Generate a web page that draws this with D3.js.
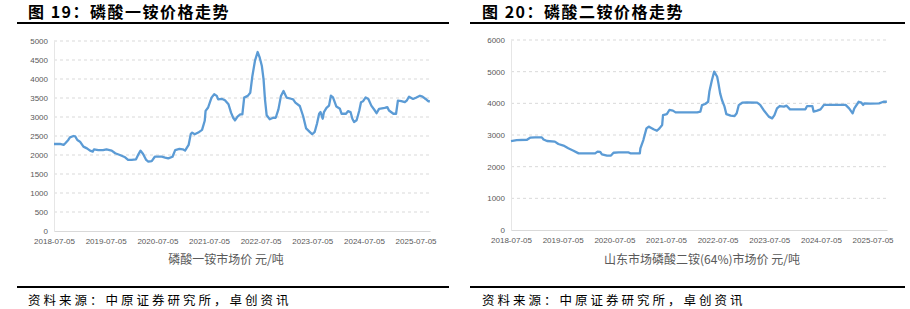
<!DOCTYPE html>
<html>
    <head>
        <meta charset="utf-8">
        <title>磷酸一铵 / 磷酸二铵价格走势</title>
        <script src="https://cdn.jsdelivr.net/npm/d3@7/dist/d3.min.js"></script>
        <style>
            body { margin: 0; background: #fff; }
            text { font-family: "Noto Sans CJK SC", "Noto Sans", sans-serif; }
        </style>
    </head>
    <body>
        <svg width="910" height="309" id="mainsvg"></svg>
        <script>
            // ---- data ----
            const mapDates = ["2018-07-05","2018-08-17","2018-09-11","2018-09-23","2018-10-14","2018-10-26","2018-11-20","2018-12-02","2018-12-17",
                "2019-01-05","2019-01-29","2019-02-23","2019-03-17","2019-04-05","2019-04-14","2019-05-14","2019-06-17","2019-07-11","2019-08-17",
                "2019-09-11","2019-10-14","2019-11-20","2019-12-11","2020-01-05","2020-02-05","2020-02-23","2020-03-08","2020-03-26","2020-04-17",
                "2020-05-02","2020-05-26","2020-06-17","2020-08-05","2020-08-29","2020-09-20","2020-10-20","2020-11-08","2020-12-08","2021-01-01",
                "2021-01-17","2021-02-11","2021-02-26","2021-03-08","2021-03-26","2021-04-20","2021-05-17","2021-06-05","2021-06-11","2021-06-29",
                "2021-07-23","2021-08-11","2021-08-29","2021-09-08","2021-10-02","2021-10-26","2021-11-20","2021-12-08","2021-12-23","2022-01-05",
                "2022-01-23","2022-02-11","2022-02-26","2022-03-11","2022-04-05","2022-04-23","2022-05-08","2022-05-26","2022-06-14","2022-06-29",
                "2022-07-14","2022-07-26","2022-08-05","2022-08-17","2022-09-08","2022-10-02","2022-10-20","2022-11-08","2022-11-26","2022-12-14",
                "2023-01-05","2023-02-05","2023-02-20","2023-03-08","2023-04-08","2023-05-02","2023-05-23","2023-06-17","2023-07-05","2023-07-23",
                "2023-08-08","2023-08-23","2023-09-02","2023-09-17","2023-09-26","2023-10-14","2023-11-01","2023-11-14","2023-11-29","2023-12-23",
                "2024-01-17","2024-01-29","2024-02-29","2024-03-14","2024-04-01","2024-04-14","2024-04-26","2024-05-14","2024-06-02","2024-06-14",
                "2024-06-29","2024-07-17","2024-08-05","2024-08-26","2024-09-20","2024-10-02","2024-10-20","2024-11-29","2024-12-17","2024-12-29",
                "2025-01-29","2025-02-17","2025-03-02","2025-03-26","2025-04-20","2025-05-05","2025-05-20","2025-06-17","2025-07-11","2025-08-05",
                "2025-08-23","2025-09-14","2025-10-02","2025-10-14"];
            const mapValues = [2290,2290,2265,2310,2395,2465,2500,2490,2395,
                2350,2220,2175,2115,2090,2150,2130,2130,2150,2115,
                2045,2000,1940,1870,1870,1885,2025,2115,2025,1870,
                1825,1840,1955,1955,1930,1910,1955,2130,2160,2150,
                2115,2265,2550,2590,2545,2590,2660,2900,3160,3250,
                3510,3600,3555,3465,3480,3440,3335,3115,2980,2910,
                3010,3070,3070,3510,3555,3640,4080,4475,4710,4560,
                4340,3990,3465,3045,2940,2980,2980,3200,3555,3685,
                3510,3480,3465,3380,3290,3020,2700,2610,2545,2610,
                2830,3085,3130,2955,3130,3240,3300,3560,3515,3275,
                3215,3085,3085,3155,3130,2955,2870,2915,3170,3390,
                3415,3515,3475,3300,3170,3100,3215,3240,3260,3170,
                3085,3085,3430,3415,3390,3440,3535,3475,3515,3560,
                3535,3475,3415,3415];

            const dapDates = ["2018-07-05","2018-08-14","2018-10-26","2018-11-17","2018-12-23","2019-02-08","2019-02-20","2019-03-17","2019-05-11",
                "2019-06-05","2019-07-11","2019-08-14","2019-09-20","2019-10-26","2020-02-20","2020-03-08","2020-03-26","2020-04-08","2020-05-14",
                "2020-06-11","2020-06-29","2020-08-05","2020-10-14","2020-10-26","2021-01-01","2021-01-05","2021-01-26","2021-02-17","2021-03-05",
                "2021-03-20","2021-04-08","2021-05-02","2021-05-20","2021-06-08","2021-06-14","2021-07-11","2021-07-29","2021-08-23","2021-09-11",
                "2022-02-11","2022-03-05","2022-03-17","2022-04-08","2022-04-29","2022-05-08","2022-05-26","2022-06-11","2022-07-02","2022-07-11",
                "2022-07-23","2022-08-05","2022-08-23","2022-09-05","2022-10-05","2022-11-02","2022-11-17","2022-12-02","2022-12-26","2023-01-29",
                "2023-04-11","2023-05-02","2023-05-26","2023-07-02","2023-07-26","2023-08-11","2023-08-29","2023-09-17","2023-10-17","2023-11-05",
                "2023-11-29","2024-03-17","2024-03-29","2024-05-05","2024-05-14","2024-06-08","2024-07-02","2024-07-26","2024-12-26","2025-01-20",
                "2025-02-14","2025-02-26","2025-03-29","2025-04-17","2025-04-29","2025-05-08","2025-06-20","2025-08-20","2025-09-20","2025-10-14"];
            const dapValues = [2810,2840,2850,2915,2925,2925,2860,2810,2790,
                2715,2665,2580,2505,2420,2420,2475,2470,2390,2350,
                2350,2440,2450,2450,2420,2420,2580,2840,3210,3265,
                3230,3180,3135,3210,3315,3630,3660,3790,3770,3715,
                3715,3735,3945,3980,4050,4370,4735,5000,4840,4630,
                4315,4105,3895,3660,3610,3600,3685,3945,4020,4030,
                4020,3950,3790,3580,3525,3630,3840,3915,3895,3925,
                3810,3810,3915,3915,3740,3770,3810,3950,3950,3840,
                3685,3840,4050,4020,3950,4000,3990,4000,4050,4050];

            const xTickDates = ["2018-07-05","2019-07-05","2020-07-05","2021-07-05","2022-07-05","2023-07-05","2024-07-05","2025-07-05"];
            const mapYTicks = [0,500,1000,1500,2000,2500,3000,3500,4000,4500,5000];
            const dapYTicks = [0,1000,2000,3000,4000,5000,6000];

            const titles = ["图 19：磷酸一铵价格走势", "图 20：磷酸二铵价格走势"];
            const seriesNames = ["磷酸一铵市场价 元/吨", "山东市场磷酸二铵(64%)市场价 元/吨"];
            const sourceText = "资料来源：中原证券研究所，卓创资讯";

            // ---- drawing ----
            const svg = d3.select("#mainsvg");
            const parse = d3.timeParse("%Y-%m-%d");
            const lineColor = "#5B9BD5";
            const textGray = "#595959";
            const domainX = [parse("2018-07-05"), parse("2025-10-15")];

            const drawPanel = function(cfg){
                const g = svg.append("g");

                // title + rules
                g.append("text")
                .attr("x", cfg.titleX).attr("y", 18)
                .attr("font-size", 16).attr("font-weight", "bold")
                .attr("letter-spacing", 1.5)
                .attr("fill", "#000")
                .text(cfg.title);
                g.append("line")
                .attr("x1", cfg.ruleX[0]).attr("x2", cfg.ruleX[1])
                .attr("y1", 23).attr("y2", 23)
                .attr("stroke", "#000").attr("stroke-width", 2);
                g.append("line")
                .attr("x1", cfg.ruleX[0]).attr("x2", cfg.ruleX[1])
                .attr("y1", 287).attr("y2", 287)
                .attr("stroke", "#000").attr("stroke-width", 2);
                g.append("text")
                .attr("x", cfg.titleX).attr("y", 305)
                .attr("font-size", 12.5).attr("letter-spacing", 3)
                .attr("fill", "#000")
                .text(sourceText);

                const xScale = d3.scaleTime().domain(domainX).range([cfg.left, cfg.right]);
                const yScale = d3.scaleLinear().domain([0, cfg.yMax]).range([cfg.bottom, cfg.top]);

                // grid
                g.append("g").selectAll("line")
                .data(cfg.yTicks.filter(d => d > 0))
                .join("line")
                .attr("x1", cfg.left).attr("x2", cfg.right)
                .attr("y1", d => yScale(d)).attr("y2", d => yScale(d))
                .attr("stroke", "#d9d9d9").attr("stroke-dasharray", "3,3");

                // axes
                const yAxis = d3.axisLeft(yScale).tickValues(cfg.yTicks).tickFormat(d3.format("d"))
                .tickSize(0).tickPadding(6);
                const yg = g.append("g").attr("transform", `translate(${cfg.left},0)`).call(yAxis);
                yg.select(".domain").attr("stroke", "#e6e6e6");
                yg.selectAll("text").attr("font-size", 8).attr("fill", textGray)
                .style("font-family", "'Liberation Sans', Arial, sans-serif");

                const xAxis = d3.axisBottom(xScale)
                .tickValues(xTickDates.map(parse))
                .tickFormat(d3.timeFormat("%Y-%m-%d"))
                .tickSize(0).tickPadding(7);
                const xg = g.append("g").attr("transform", `translate(0,${cfg.bottom})`).call(xAxis);
                xg.select(".domain").attr("stroke", "#d9d9d9");
                xg.selectAll("text").attr("font-size", 8).attr("fill", textGray)
                .style("font-family", "'Liberation Sans', Arial, sans-serif");

                // series
                const pts = cfg.dates.map((d, i) => ({date: parse(d), value: cfg.values[i]}));
                const line = d3.line().x(d => xScale(d.date)).y(d => yScale(d.value));
                g.append("path")
                .datum(pts)
                .attr("d", line)
                .attr("fill", "none")
                .attr("stroke", lineColor)
                .attr("stroke-width", 2.3)
                .attr("stroke-linejoin", "round");

                // series name under the chart
                g.append("text")
                .attr("x", cfg.nameX).attr("y", 264)
                .attr("text-anchor", "middle")
                .attr("font-size", 12).attr("fill", textGray)
                .text(cfg.name);
            };

            drawPanel({
                title: titles[0], name: seriesNames[0], titleX: 28, ruleX: [17, 449], nameX: 226,
                left: 54, right: 430, top: 41, bottom: 231, yMax: 5000, yTicks: mapYTicks,
                dates: mapDates, values: mapValues
            });
            drawPanel({
                title: titles[1], name: seriesNames[1], titleX: 482, ruleX: [470, 905], nameX: 702,
                left: 511, right: 887, top: 40, bottom: 230, yMax: 6000, yTicks: dapYTicks,
                dates: dapDates, values: dapValues
            });
        </script>
    </body>
</html>
